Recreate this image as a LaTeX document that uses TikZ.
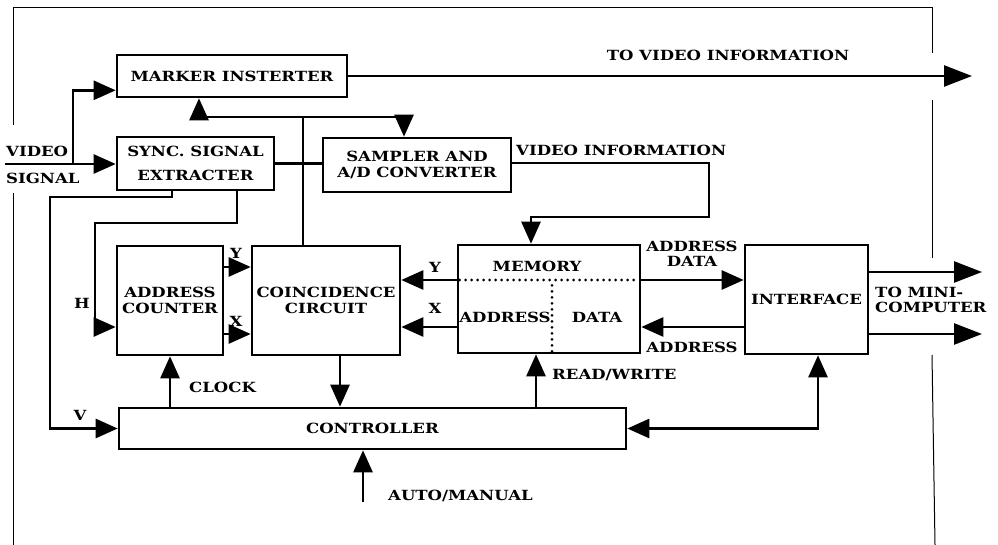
\documentclass[tikz,border=0pt]{standalone}
\usepackage{fontspec}
\newfontfamily\diagfont{DejaVu Serif}[FakeStretch=1.18]
\newcommand\diagtxt{\diagfont\bfseries\fontsize{14}{15.5}\selectfont}
\usetikzlibrary{calc, positioning}
\usetikzlibrary{arrows.meta}

\tikzset{
  blk/.style={draw, line width=2.6pt, inner sep=0pt, align=center, font=\diagtxt},
  lbl/.style={inner sep=1pt, align=left, font=\diagtxt},
  ln/.style={line width=2.6pt},
  arr/.style={line width=2.6pt, -{Triangle[length=22pt, width=19pt]}},
  darr/.style={line width=2.6pt, {Triangle[length=22pt, width=19pt]}-{Triangle[length=22pt, width=19pt]}},
  longarr/.style={line width=2.6pt, -{Triangle[length=28pt, width=21pt]}},
  frame/.style={line width=1pt},
  memdots/.style={line width=3pt, line cap=round, dash pattern=on 0pt off 6pt}
}

\begin{document}
\begin{tikzpicture}[x=1pt, y=-1pt]
\useasboundingbox (0,0) rectangle (998,545);

\draw[frame] (13,545) -- (13,193);
\draw[frame] (13,125) -- (13,8) -- (932,8) -- (932,53);
\draw[frame] (932,100) -- (932,258);
\draw[frame] (932,355) -- (935,545);

\node[blk, minimum width=230pt, minimum height=42pt] (marker) at (232,76) {MARKER INSTERTER};
\node[blk, minimum width=157pt, minimum height=53pt] (sync) at (195.5,163.5) {SYNC. SIGNAL\\[8pt]EXTRACTER};
\node[blk, minimum width=188pt, minimum height=54pt] (sampler) at (417,165) {SAMPLER AND\\A/D CONVERTER};
\node[blk, minimum width=106pt, minimum height=109pt] (addr) at (170,300.5) {ADDRESS\\COUNTER};
\node[blk, minimum width=148pt, minimum height=109pt] (coinc) at (326,300.5) {COINCIDENCE\\CIRCUIT};
\node[blk, minimum width=182pt, minimum height=108pt] (memory) at (549,299) {};
\node[blk, minimum width=123pt, minimum height=109pt] (iface) at (806.5,299.5) {INTERFACE};
\node[blk, minimum width=507pt, minimum height=41pt] (ctrl) at (372.5,428.5) {CONTROLLER};

\coordinate (vin) at (5,164);
\coordinate (vbr) at (73,164);
\coordinate (bus) at (303,117);
\coordinate (vinfo) at (709,217);
\coordinate (hx) at (95,223);
\coordinate (vx) at (50,197);
\coordinate (tv) at (972,76);
\coordinate (mc1) at (982,272);
\coordinate (mc2) at (982,334);
\coordinate (am) at (363,502);

\node[lbl, anchor=west] (video) at (5,151) {VIDEO};
\node[lbl, anchor=west] (signal) at (5,178) {SIGNAL};
\draw[arr] (vin) -- (vin -| sync.west);
\draw[arr] (vbr) |- ($(marker.south west)+(0,-8)$);

\draw[longarr] (marker.east) -- (tv);
\node[lbl] (tvlbl) at (728,55) {TO VIDEO INFORMATION};

\draw[ln] (sync.east) -- (sync.east -| sampler.west);
\draw[ln] (bus |- coinc.north) -- (bus);
\draw[arr] (bus) -| ($(marker.south)+(-33,0)$);
\draw[arr] (bus) -| ($(sampler.north)+(-13,0)$);

\draw[arr] ($(sampler.east)+(0,-2)$) -| (vinfo) -| ($(memory.north)+(-18,0)$);
\node[lbl, anchor=west] (vilbl) at (515,150) {VIDEO INFORMATION};

\draw[arr] ($(sync.south)+(41.5,0)$) |- (hx) |- ($(addr.west)+(0,26.5)$);
\node[lbl] (hlbl) at (82,303) {H};
\draw[arr] ($(sync.south)+(-23.5,0)$) |- (vx) |- (ctrl.west);
\node[lbl] (vlbl) at (80,415) {V};

\draw[arr] ($(addr.east)+(0,-33.5)$) -- ($(coinc.west)+(0,-33.5)$);
\draw[arr] ($(addr.east)+(0,33.5)$) -- ($(coinc.west)+(0,33.5)$);
\node[lbl] (aylbl) at (236,253) {Y};
\node[lbl] (axlbl) at (236,321) {X};

\draw[arr] ($(memory.west)+(0,-19)$) coordinate (my) -- (my -| coinc.east);
\draw[arr] ($(memory.west)+(0,28)$) coordinate (mx) -- (mx -| coinc.east);
\node[lbl] (mylbl) at (435,267) {Y};
\node[lbl] (mxlbl) at (435,308) {X};

\draw[memdots] ($(memory.west)+(3,-19)$) -- ($(memory.east)+(-3,-19)$);
\draw[memdots] ($(memory.south)+(3,-3)$) -- ($(memory.south)+(3,-73)$);
\node[lbl] (memlbl) at (537,266) {MEMORY};
\node[lbl] (madlbl) at (505,317) {ADDRESS};
\node[lbl] (mdalbl) at (597,317) {DATA};

\draw[arr] ($(memory.east)+(0,-19)$) coordinate (mo) -- (mo -| iface.west);
\node[lbl, align=center] (adlbl) at (692,254) {ADDRESS\\DATA};
\draw[arr] ($(iface.west)+(0,27.5)$) coordinate (io) -- (io -| memory.east);
\node[lbl] (ialbl) at (692,347) {ADDRESS};

\draw[longarr] (iface.east |- mc1) -- (mc1);
\draw[longarr] (iface.east |- mc2) -- (mc2);
\node[lbl, anchor=west] (mclbl) at (874,300) {TO MINI-\\COMPUTER};

\draw[arr] (addr.south |- ctrl.north) -- (addr.south);
\node[lbl, anchor=west] (clklbl) at (188,387) {CLOCK};
\draw[arr] ($(coinc.south)+(14,0)$) coordinate (cc) -- (cc |- ctrl.north);
\draw[arr] ($(memory.south)+(-13,0)$) coordinate (rw) ++(0,55) -- (rw);
\node[lbl, anchor=west] (rwlbl) at (551,375) {READ/WRITE};
\draw[darr] (ctrl.east) -| ($(iface.south)+(11.5,0)$);

\draw[arr] (am) -- (am |- ctrl.south);
\node[lbl, anchor=west] (amlbl) at (387,496) {AUTO/MANUAL};
\end{tikzpicture}
\end{document}
